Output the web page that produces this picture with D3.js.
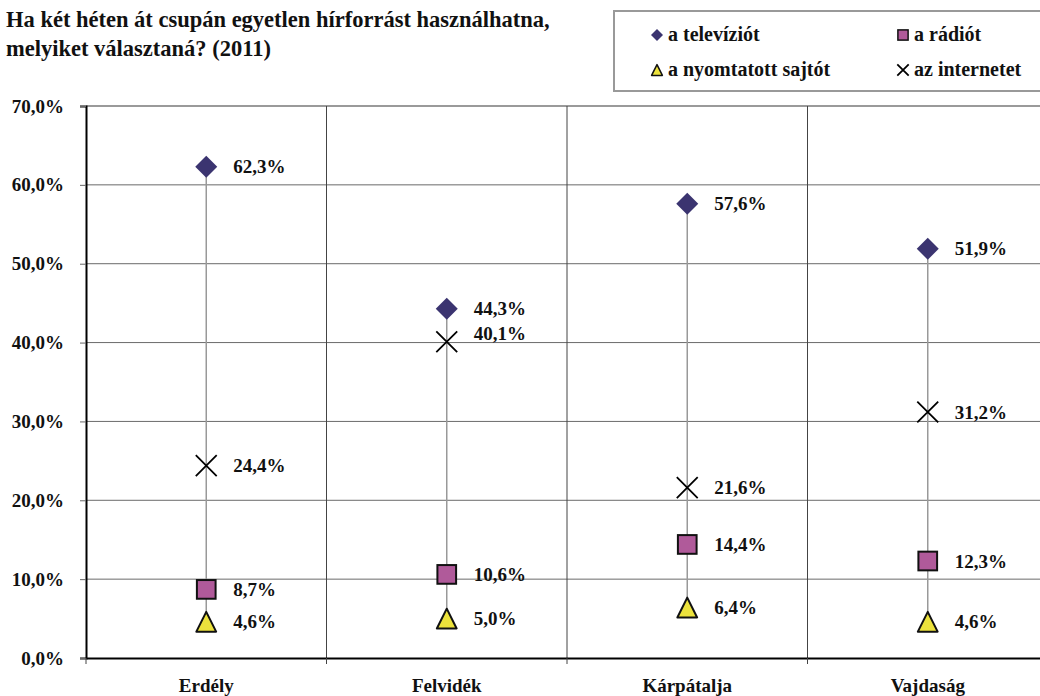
<!DOCTYPE html>
<html>
<head>
<meta charset="utf-8">
<script src="https://cdn.jsdelivr.net/npm/d3@7"></script>
<style>
  body { margin: 0; background: #fff; }
</style>
</head>
<body>
<div id="chart"></div>
<script>
// data
const categories = ['Erdély', 'Felvidék', 'Kárpátalja', 'Vajdaság'];
const seriesNames = ['a televíziót', 'a rádiót', 'a nyomtatott sajtót', 'az internetet'];
const televizio = [62.3, 44.3, 57.6, 51.9];
const radio = [8.7, 10.6, 14.4, 12.3];
const sajto = [4.6, 5.0, 6.4, 4.6];
const internet = [24.4, 40.1, 21.6, 31.2];
const yTicks = [0, 10, 20, 30, 40, 50, 60, 70];

const series = [
  {name: seriesNames[0], values: televizio, shape: 'diamond'},
  {name: seriesNames[1], values: radio, shape: 'square'},
  {name: seriesNames[2], values: sajto, shape: 'triangle'},
  {name: seriesNames[3], values: internet, shape: 'cross'}
];

const FONT = '"Liberation Serif", "Times New Roman", serif';
const FS = 19;

const width = 1040, height = 696;
const margin = {top: 106, right: -8, bottom: 38, left: 86};
const innerW = width - margin.left - margin.right,
      innerH = height - margin.top - margin.bottom;

const fmt = v => d3.format('.1f')(v).replace('.', ',') + '%';

const svg = d3.select('#chart').append('svg')
    .attr('width', width)
    .attr('height', height);

function styleText(sel, size) {
  sel.attr('font-family', FONT)
     .attr('font-weight', 'bold')
     .attr('font-size', size)
     .attr('fill', '#111');
}

// title
svg.append('text')
    .attr('x', 6).attr('y', 27)
    .call(styleText, 22.5)
    .text('Ha két héten át csupán egyetlen hírforrást használhatna,');
svg.append('text')
    .attr('x', 6).attr('y', 56)
    .call(styleText, 22.5)
    .text('melyiket választaná? (2011)');

const g = svg.append('g')
    .attr('transform', `translate(${margin.left},${margin.top})`);

const xScale = d3.scaleBand()
    .domain(categories)
    .range([0, innerW]);

const yScale = d3.scaleLinear()
    .domain([0, 70])
    .range([innerH, 0]);

// horizontal gridlines
g.append('g').selectAll('line')
    .data(yTicks.filter(d => d > 0))
    .join('line')
    .attr('x1', 0).attr('x2', innerW)
    .attr('y1', d => yScale(d)).attr('y2', d => yScale(d))
    .attr('stroke', d => d === 70 ? '#9a9a9a' : '#6a6a6a')
    .attr('stroke-width', d => d === 70 ? 2 : 1);

// vertical category separators
g.append('g').selectAll('line')
    .data(categories.slice(1))
    .join('line')
    .attr('x1', d => xScale(d)).attr('x2', d => xScale(d))
    .attr('y1', 0).attr('y2', innerH)
    .attr('stroke', '#444')
    .attr('stroke-width', 1);

// axes
const yAxis = d3.axisLeft(yScale)
    .tickValues(yTicks)
    .tickSize(6)
    .tickPadding(22)
    .tickFormat(fmt);

const yG = g.append('g').call(yAxis);
yG.select('.domain').attr('stroke', '#000').attr('stroke-width', 2);
yG.selectAll('.tick line').attr('stroke', '#666');
yG.selectAll('.tick text').call(styleText, FS).attr('x', -22);

const xAxis = d3.axisBottom(xScale)
    .tickSize(0)
    .tickPadding(21);
const xG = g.append('g')
    .attr('transform', `translate(0,${innerH})`)
    .call(xAxis);
xG.select('.domain').attr('stroke', '#000').attr('stroke-width', 2);
xG.selectAll('.tick text').call(styleText, FS);

// bottom tick marks at band edges
g.append('g').selectAll('line')
    .data(categories)
    .join('line')
    .attr('x1', d => xScale(d)).attr('x2', d => xScale(d))
    .attr('y1', innerH).attr('y2', innerH + 6)
    .attr('stroke', '#444');

// high-low lines
const cx = c => xScale(c) + xScale.bandwidth() / 2;
g.append('g').selectAll('line')
    .data(categories)
    .join('line')
    .attr('x1', d => cx(d)).attr('x2', d => cx(d))
    .attr('y1', (d, i) => yScale(d3.max(series, s => s.values[i])))
    .attr('y2', (d, i) => yScale(d3.min(series, s => s.values[i])))
    .attr('stroke', '#999')
    .attr('stroke-width', 1.5);

// marker drawing
function drawMarker(sel, shape, size) {
  const h = size / 2;
  if (shape === 'diamond') {
    sel.append('path')
      .attr('d', `M0,${-h}L${h},0L0,${h}L${-h},0Z`)
      .attr('fill', '#3b3470');
  } else if (shape === 'square') {
    const s = h * 0.85;
    sel.append('rect')
      .attr('x', -s).attr('y', -s).attr('width', 2 * s).attr('height', 2 * s)
      .attr('fill', '#b05a9a').attr('stroke', '#111').attr('stroke-width', size > 15 ? 2 : 1.5);
  } else if (shape === 'triangle') {
    const s = h * 0.9;
    sel.append('path')
      .attr('d', `M0,${-s}L${s},${s}L${-s},${s}Z`)
      .attr('fill', '#ece23c').attr('stroke', '#111').attr('stroke-width', size > 15 ? 2 : 1.5)
      .attr('stroke-linejoin', 'round');
  } else {
    const s = h * 0.95;
    sel.append('path')
      .attr('d', `M${-s},${-s}L${s},${s}M${-s},${s}L${s},${-s}`)
      .attr('stroke', '#000').attr('stroke-width', 1.8).attr('fill', 'none');
  }
}

// the one label Excel moved up to clear its neighbour (Felvidék, internet)
const labelNudge = {'az internetet|Felvidék': -8};

// points + labels
series.forEach(s => {
  const pts = g.append('g');
  categories.forEach((c, i) => {
    const m = pts.append('g')
        .attr('transform', `translate(${cx(c)},${yScale(s.values[i])})`);
    drawMarker(m, s.shape, 22);
  });
  pts.selectAll('text')
    .data(s.values)
    .join('text')
    .attr('x', (d, i) => cx(categories[i]) + 27)
    .attr('y', (d, i) => yScale(d) + (labelNudge[s.name + '|' + categories[i]] || 0))
    .attr('dy', '0.35em')
    .call(styleText, FS)
    .text(d => fmt(d));
});

// legend
const legend = svg.append('g');
legend.append('rect')
    .attr('x', 614).attr('y', 11)
    .attr('width', 440).attr('height', 80)
    .attr('fill', '#fff').attr('stroke', '#999').attr('stroke-width', 2);

const legendPos = [[657, 35], [903, 35], [657, 70], [903, 70]];
series.forEach((s, i) => {
  const item = legend.append('g')
      .attr('transform', `translate(${legendPos[i][0]},${legendPos[i][1]})`);
  drawMarker(item, s.shape, 12);
  item.append('text')
    .attr('x', 11).attr('dy', '0.3em')
    .call(styleText, 20)
    .text(s.name);
});
</script>
</body>
</html>
